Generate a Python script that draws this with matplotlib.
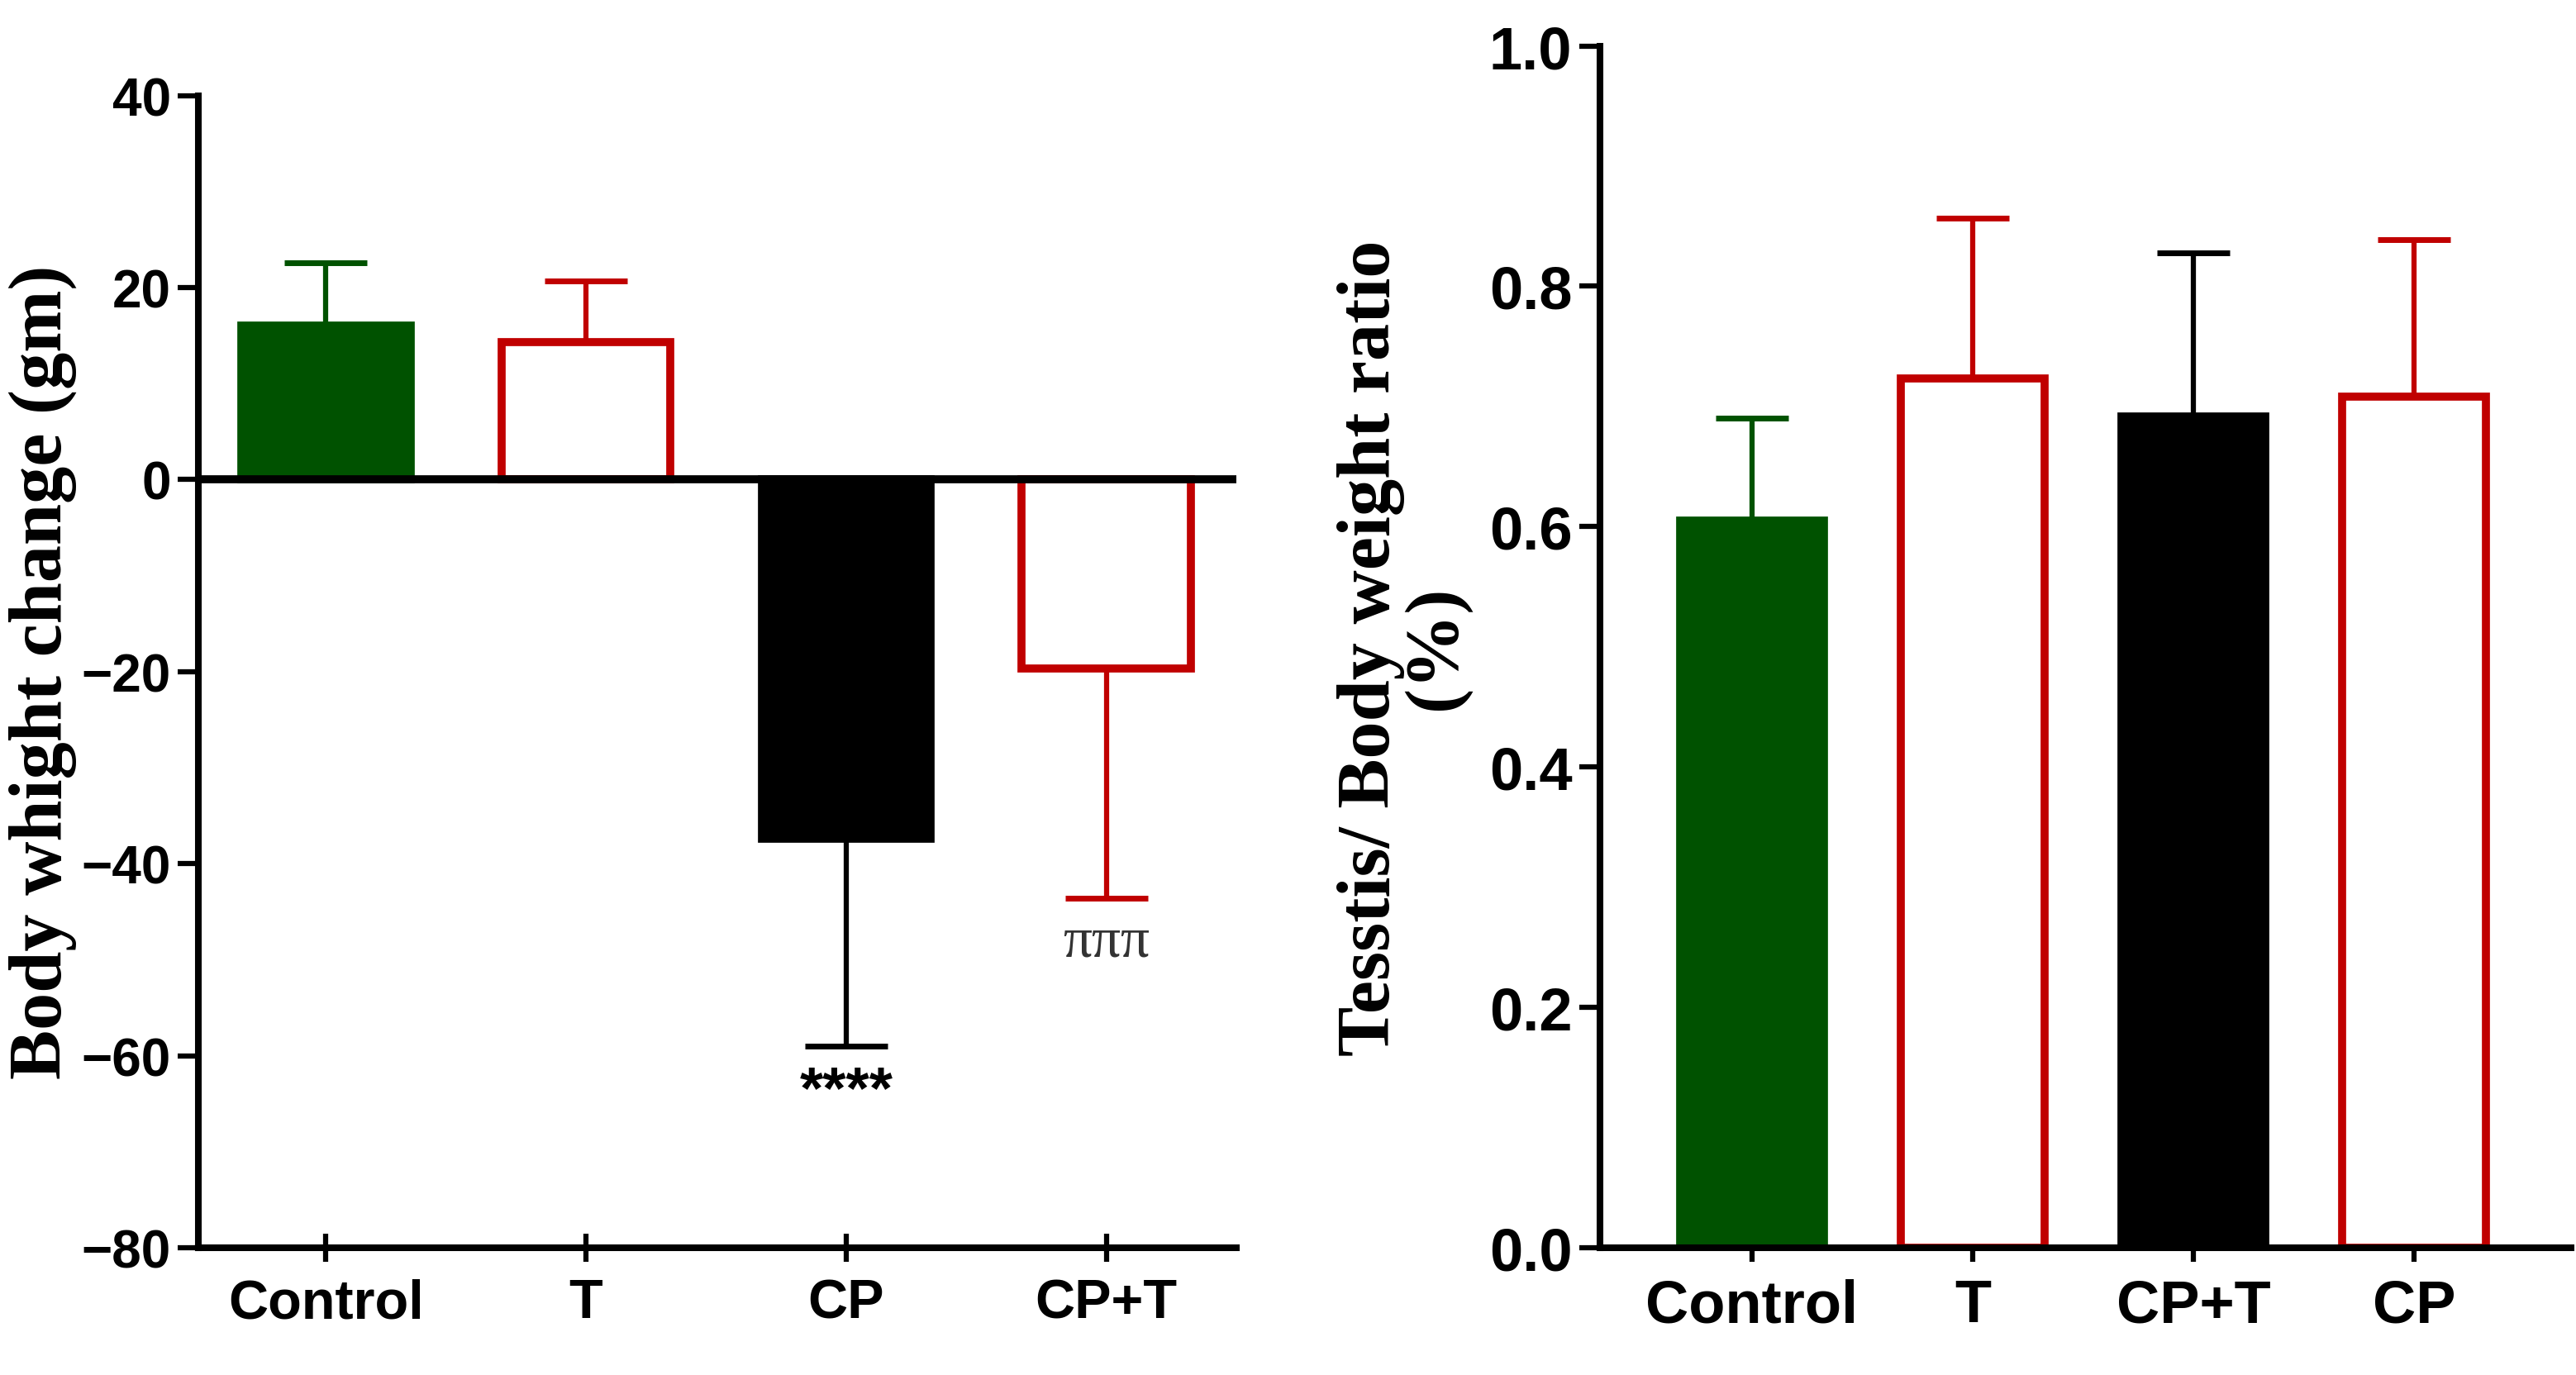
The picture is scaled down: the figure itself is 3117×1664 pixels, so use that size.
import matplotlib.pyplot as plt
import numpy as np

# left panel: body weight change
groups_l = ['Control', 'T', 'CP', 'CP+T']
change_l = [16.0, 14.3, -37.4, -19.7]
err_l = [6.6, 6.4, 21.6, 23.9]
fill_l = ['#005200', 'white', 'black', 'white']
edge_l = ['#005200', '#C00000', 'black', '#C00000']
marks_l = ['', '', '****', 'πππ']

# right panel: testis / body weight ratio
groups_r = ['Control', 'T', 'CP+T', 'CP']
ratio_r = [0.605, 0.723, 0.692, 0.708]
err_r = [0.085, 0.134, 0.136, 0.131]
fill_r = ['#005200', 'white', 'black', 'white']
edge_r = ['#005200', '#C00000', 'black', '#C00000']

sans = ['Liberation Sans Narrow', 'Liberation Sans', 'DejaVu Sans']
serif = ['Liberation Serif', 'DejaVu Serif']

fig = plt.figure(figsize=(31.17, 16.65), dpi=100)
ax1 = fig.add_axes([0.077, 0.0925, 0.403, 0.8375])
ax2 = fig.add_axes([0.621, 0.0925, 0.377, 0.8735])


def style(ax, ysize, xsize):
    for s in ['top', 'right']:
        ax.spines[s].set_visible(False)
    for s in ['left', 'bottom']:
        ax.spines[s].set_linewidth(5.8)
    ax.tick_params(axis='y', direction='out', length=18, width=4.5, pad=6)
    ax.tick_params(axis='x', direction='inout', length=24, width=4.5, pad=14)
    for lab in ax.get_yticklabels():
        lab.set_family(sans)
        lab.set_fontweight('bold')
        lab.set_fontsize(ysize)
    for lab in ax.get_xticklabels():
        lab.set_family(sans)
        lab.set_fontweight('bold')
        lab.set_fontsize(xsize)


x = np.arange(len(groups_l))
ax1.bar(x, change_l, 0.65, color=fill_l, edgecolor=edge_l, linewidth=7, zorder=2)
for i in range(len(x)):
    if change_l[i] >= 0:
        yerr = [[0], [err_l[i]]]
    else:
        yerr = [[err_l[i]], [0]]
    ax1.errorbar(x[i], change_l[i], yerr=yerr, fmt='none', ecolor=edge_l[i],
                 elinewidth=4.5, capsize=36, capthick=5, zorder=1)
ax1.axhline(0, color='black', lw=7, zorder=3)
ax1.text(x[2], change_l[2] - err_l[2] - 1.8, marks_l[2], ha='center', va='top',
         fontsize=52, fontweight='bold', family=sans)
ax1.text(x[3], change_l[3] - err_l[3] - 1.8, marks_l[3], ha='center', va='top',
         fontsize=50, color='#333333', family=serif)
ax1.set_xlim(-0.49, 3.5)
ax1.set_ylim(-80, 40)
ax1.set_yticks([-80, -60, -40, -20, 0, 20, 40])
ax1.set_xticks(x)
ax1.set_xticklabels(groups_l)
ax1.set_ylabel('Body whight change (gm)', fontsize=65, fontweight='bold',
               family=serif, labelpad=4)
style(ax1, 46, 48)

x = np.arange(len(groups_r))
ax2.bar(x, ratio_r, 0.65, color=fill_r, edgecolor=edge_r, linewidth=7, zorder=2)
for i in range(len(x)):
    ax2.errorbar(x[i], ratio_r[i], yerr=[[0], [err_r[i]]], fmt='none', ecolor=edge_r[i],
                 elinewidth=4.5, capsize=32, capthick=5, zorder=1)
ax2.set_xlim(-0.69, 3.71)
ax2.set_ylim(0, 1.0)
ax2.set_yticks([0.0, 0.2, 0.4, 0.6, 0.8, 1.0])
ax2.set_yticklabels(['0.0', '0.2', '0.4', '0.6', '0.8', '1.0'])
ax2.set_xticks(x)
ax2.set_xticklabels(groups_r)
ax2.set_ylabel('Tesstis/ Body weight ratio\n(%)', fontsize=65, fontweight='bold',
               family=serif, labelpad=16, linespacing=0.95)
style(ax2, 52, 52)

fig.savefig('out.png', dpi=100)
